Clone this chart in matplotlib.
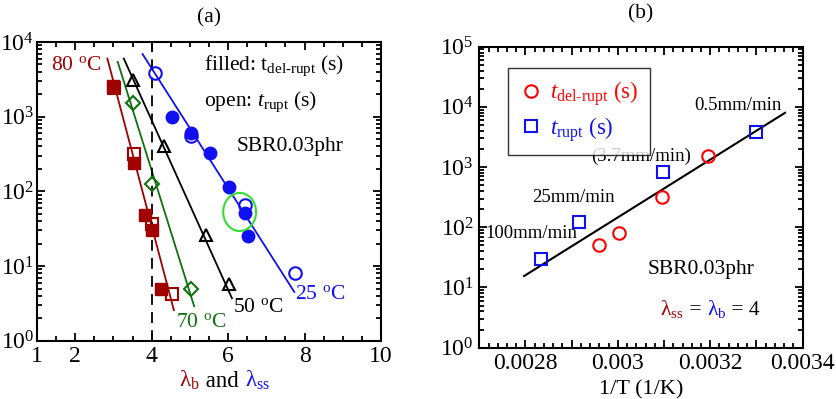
import numpy as np
import matplotlib.pyplot as plt
from matplotlib.ticker import MultipleLocator, FixedLocator, LogLocator, NullFormatter, FuncFormatter
from matplotlib.offsetbox import TextArea, HPacker, AnchoredOffsetbox

plt.rcParams['font.family'] = ['Liberation Serif', 'DejaVu Serif']
plt.rcParams['mathtext.fontset'] = 'custom'
plt.rcParams['mathtext.rm'] = 'Liberation Serif'
plt.rcParams['mathtext.it'] = 'Liberation Serif:italic'
plt.rcParams['mathtext.bf'] = 'Liberation Serif:bold'

DRED = '#a00000'
GREEN = '#107010'
BLUE = '#1010f0'

# ---- panel (a) data: lambda vs time
lam80_f = [3.0, 3.53, 3.82, 4.02, 4.24]
t80_f = [2600, 237, 48, 30, 5.0]
lam80_o = [3.02, 3.53, 4.02, 4.53]
t80_o = [2400, 316, 36, 4.2]
lam70 = [3.52, 4.02, 5.03]
t70 = [1510, 126, 5.0]
lam50 = [3.52, 4.31, 5.42, 6.03]
t50 = [3090, 407, 26, 5.7]
lam25_f = [4.53, 5.03, 5.53, 6.03, 6.44, 6.53]
t25_f = [980, 610, 331, 113, 52, 25]
lam25_o = [4.09, 5.03, 6.44, 7.74]
t25_o = [3880, 550, 66, 8.1]
# fit lines (end points)
fit80 = ([2.84, 4.58], [6000, 2.57])
fit70 = ([3.11, 5.11], [5430, 2.9])
fit50 = ([3.27, 6.10], [6000, 3.7])
fit25 = ([3.76, 7.73], [6900, 4.5])

# ---- panel (b) data: 1/T vs time
invT_del = [0.002959, 0.003002, 0.003096, 0.003196]
t_del = [51, 79, 318, 1520]
invT_rupt = [0.002834, 0.002916, 0.003097, 0.0033]
t_rupt = [30, 121, 820, 3870]
fitb = ([0.002797, 0.003362], [15.5, 7980])

fig = plt.figure(figsize=(8.36, 3.99), dpi=100)
ax1 = fig.add_axes([0.0443, 0.1461, 0.4115, 0.7486])
ax2 = fig.add_axes([0.5733, 0.1286, 0.3868, 0.7544])

fs = 15.5
tfs = 17

def style(ax):
    ax.tick_params(which='both', direction='in', top=True, right=True, width=1.3, labelsize=tfs)
    ax.tick_params(which='major', length=6, pad=4)
    ax.tick_params(which='minor', length=3.5)
    for s in ax.spines.values():
        s.set_linewidth(1.5)

# panel (a)
ax1.set_yscale('log')
ax1.plot(*fit80, color=DRED, lw=1.3)
ax1.plot(*fit70, color=GREEN, lw=1.3)
ax1.plot(*fit50, color='black', lw=1.3)
ax1.plot(*fit25, color=BLUE, lw=1.3)
ax1.axvline(4, color='black', ls=(0, (6, 4)), lw=1.3)
ms = 9
ax1.plot(lam80_o, t80_o, 's', mfc='none', mec=DRED, mew=1.5, ms=ms)
ax1.plot(lam80_f, t80_f, 's', color=DRED, ms=ms)
ax1.plot(lam70, t70, 'D', mfc='none', mec=GREEN, mew=1.5, ms=7.5)
ax1.plot(lam50, t50, '^', mfc='none', mec='black', mew=1.5, ms=ms)
ax1.plot(lam25_o, t25_o, 'o', mfc='none', mec=BLUE, mew=1.5, ms=ms)
ax1.plot(lam25_f, t25_f, 'o', color=BLUE, ms=ms)
# highlight ellipse
th = np.linspace(0, 2 * np.pi, 200)
ax1.plot(6.3 + 0.43 * np.cos(th), 53 * 10 ** (0.255 * np.sin(th)), color='#33dd33', lw=1.5)

ax1.set_xlim(1, 10)
ax1.set_ylim(1, 1e4)
ax1.xaxis.set_major_locator(FixedLocator([1, 2, 4, 6, 8, 10]))
ax1.xaxis.set_minor_locator(MultipleLocator(0.5))
ax1.yaxis.set_major_locator(LogLocator(base=10, numticks=10))
ax1.yaxis.set_minor_locator(LogLocator(base=10, subs=np.arange(2, 10), numticks=10))
ax1.yaxis.set_minor_formatter(NullFormatter())
style(ax1)
ax1.tick_params(axis='y', which='major', pad=2)
ax1.set_title('(a)', fontsize=fs, pad=14)

ax1.text(0.04, 0.92, '80 $^\\mathrm{o}$C', color=DRED, fontsize=fs, transform=ax1.transAxes, va='center')
ax1.text(0.485, 0.92, 'filled: t$_\\mathrm{del\\text{-}rupt}$ (s)', fontsize=fs, transform=ax1.transAxes, va='center')
ax1.text(0.485, 0.80, 'open: $t_\\mathrm{rupt}$ (s)', fontsize=fs, transform=ax1.transAxes, va='center')
ax1.text(0.58, 0.65, 'SBR0.03phr', fontsize=fs, transform=ax1.transAxes, va='center')
ax1.text(0.75, 0.155, '25 $^\\mathrm{o}$C', color=BLUE, fontsize=fs, transform=ax1.transAxes, va='center')
ax1.text(0.57, 0.11, '50 $^\\mathrm{o}$C', color='black', fontsize=fs, transform=ax1.transAxes, va='center')
ax1.text(0.405, 0.06, '70 $^\\mathrm{o}$C', color=GREEN, fontsize=fs, transform=ax1.transAxes, va='center')

xl = HPacker(children=[TextArea('λ$_\\mathrm{b}$', textprops=dict(color=DRED, fontsize=16.5)),
                       TextArea(' and ', textprops=dict(color='black', fontsize=16.5)),
                       TextArea('λ$_\\mathrm{ss}$', textprops=dict(color=BLUE, fontsize=16.5))],
             align='baseline', pad=0, sep=0)
ax1.add_artist(AnchoredOffsetbox(loc='upper center', child=xl, bbox_to_anchor=(0.545, -0.095),
                                 bbox_transform=ax1.transAxes, frameon=False, pad=0, borderpad=0))

# panel (b)
ax2.set_yscale('log')
ax2.plot(*fitb, color='black', lw=1.5)
ax2.plot(invT_del, t_del, 'o', mfc='none', mec='red', mew=1.5, ms=9, label='$t_\\mathrm{del\\text{-}rupt}$ (s)')
ax2.plot(invT_rupt, t_rupt, 's', mfc='none', mec=BLUE, mew=1.5, ms=9, label='$t_\\mathrm{rupt}$ (s)')
ax2.set_xlim(0.0027, 0.0034)
ax2.set_ylim(1, 1e5)
ax2.xaxis.set_major_locator(MultipleLocator(0.0001))
ax2.xaxis.set_minor_locator(MultipleLocator(0.00002))
ax2.xaxis.set_major_formatter(FuncFormatter(lambda v, p: '%g' % round(v, 5) if round(v * 1e4) % 2 == 0 else ''))
ax2.yaxis.set_major_locator(LogLocator(base=10, numticks=10))
ax2.yaxis.set_minor_locator(LogLocator(base=10, subs=np.arange(2, 10), numticks=10))
ax2.yaxis.set_minor_formatter(NullFormatter())
style(ax2)
ax2.set_title('(b)', fontsize=fs, pad=20)
ax2.set_xlabel('1/T (1/K)', fontsize=16, labelpad=4)

leg = ax2.legend(loc='upper left', bbox_to_anchor=(0.09, 0.93), fontsize=16.5, frameon=True, fancybox=False,
                 edgecolor='black', handletextpad=0.3, borderpad=0.5, borderaxespad=0, labelcolor='markeredgecolor',
                 handlelength=1.0, labelspacing=0.3)
leg.get_frame().set_linewidth(1.0)

ax2.text(0.80, 0.805, '0.5mm/min', fontsize=13.5, transform=ax2.transAxes, ha='center', va='center')
ax2.text(0.50, 0.635, '(3.7mm/min)', fontsize=13.5, transform=ax2.transAxes, ha='center', va='center')
ax2.text(0.29, 0.50, '25mm/min', fontsize=13.5, transform=ax2.transAxes, ha='center', va='center')
ax2.text(0.16, 0.38, '100mm/min', fontsize=13.5, transform=ax2.transAxes, ha='center', va='center')
ax2.text(0.685, 0.26, 'SBR0.03phr', fontsize=fs, transform=ax2.transAxes, ha='center', va='center')

ll = HPacker(children=[TextArea('λ$_\\mathrm{ss}$', textprops=dict(color=DRED, fontsize=fs)),
                       TextArea(' = ', textprops=dict(color='black', fontsize=fs)),
                       TextArea('λ$_\\mathrm{b}$', textprops=dict(color=BLUE, fontsize=fs)),
                       TextArea(' = 4', textprops=dict(color='black', fontsize=fs))],
             align='baseline', pad=0, sep=0)
ax2.add_artist(AnchoredOffsetbox(loc='center', child=ll, bbox_to_anchor=(0.713, 0.13),
                                 bbox_transform=ax2.transAxes, frameon=False, pad=0, borderpad=0))

fig.savefig('out.png', dpi=100)
